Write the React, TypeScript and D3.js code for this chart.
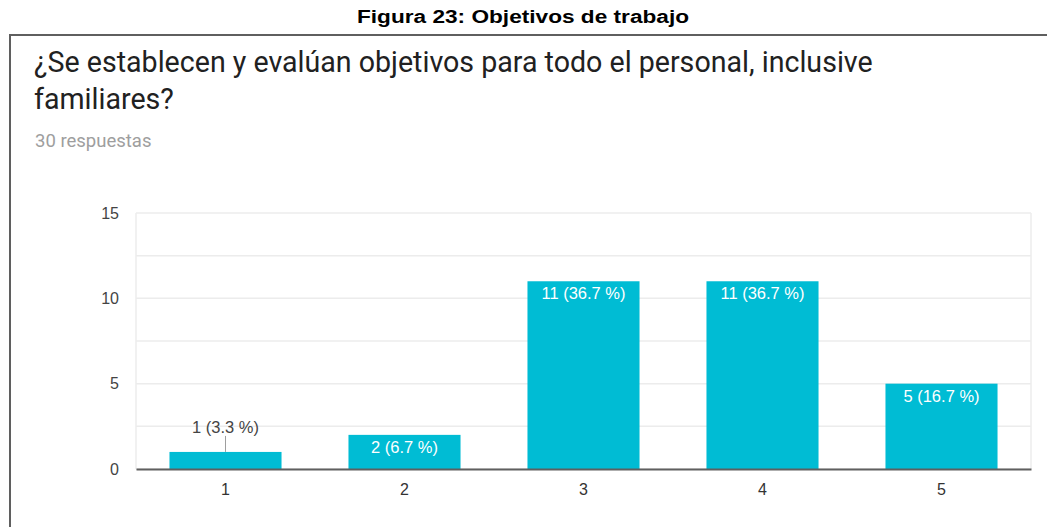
import React, { useEffect, useRef } from 'react';
import * as d3 from 'd3';

const categories: string[] = ['1', '2', '3', '4', '5'];
const counts: number[] = [1, 2, 11, 11, 5];
const percents: string[] = ['3.3', '6.7', '36.7', '36.7', '16.7'];
const yTickLabels: number[] = [0, 5, 10, 15];
const gridValues: number[] = [0, 2.5, 5, 7.5, 10, 12.5, 15];

const caption = 'Figura 23: Objetivos de trabajo';
const titleLines: string[] = [
  '¿Se establecen y evalúan objetivos para todo el personal, inclusive',
  'familiares?',
];
const subtitle = '30 respuestas';

const App: React.FC = () => {
  const svgRef = useRef<SVGSVGElement | null>(null);

  useEffect(() => {
    const svg = d3.select(svgRef.current);
    svg.selectAll('*').remove();

    const width = 1047;
    const height = 527;
    const left = 136;
    const right = 1031;
    const top = 213;
    const bottom = 469;
    const labelFont = 'Liberation Sans, Arial, sans-serif';

    svg.attr('width', width).attr('height', height);

    // caption above the frame
    svg.append('text')
      .attr('x', 523)
      .attr('y', 23)
      .attr('text-anchor', 'middle')
      .attr('font-family', labelFont)
      .attr('font-weight', 'bold')
      .attr('font-size', 18)
      .attr('textLength', 332)
      .attr('lengthAdjust', 'spacingAndGlyphs')
      .attr('fill', '#000')
      .text(caption);

    // frame
    svg.append('path')
      .attr('d', `M10,${height} V35 H${width}`)
      .attr('fill', 'none')
      .attr('stroke', '#5f5f5f')
      .attr('stroke-width', 2);

    // title
    svg.selectAll('text.title')
      .data(titleLines)
      .enter()
      .append('text')
      .attr('class', 'title')
      .attr('x', 34)
      .attr('y', (_, i) => 72 + i * 37)
      .attr('font-family', 'Roboto, sans-serif')
      .attr('font-size', 28.6)
      .attr('fill', '#212121')
      .text((d) => d);

    svg.append('text')
      .attr('x', 35)
      .attr('y', 147)
      .attr('font-family', 'Roboto, sans-serif')
      .attr('font-size', 18.5)
      .attr('fill', '#9e9e9e')
      .text(subtitle);

    const x = d3.scaleBand()
      .domain(categories)
      .range([left, right])
      .paddingInner(0.374)
      .paddingOuter(0.187);
    const y = d3.scaleLinear().domain([0, 15]).range([bottom, top]);

    // gridlines
    svg.append('g')
      .selectAll('line')
      .data(gridValues)
      .enter()
      .append('line')
      .attr('x1', left)
      .attr('x2', right)
      .attr('y1', (d) => y(d))
      .attr('y2', (d) => y(d))
      .attr('stroke', '#ececec')
      .attr('stroke-width', 1.5);

    svg.append('line')
      .attr('x1', left).attr('x2', left)
      .attr('y1', top).attr('y2', bottom)
      .attr('stroke', '#ececec').attr('stroke-width', 1.5);
    svg.append('line')
      .attr('x1', right).attr('x2', right)
      .attr('y1', top).attr('y2', bottom)
      .attr('stroke', '#ececec').attr('stroke-width', 1.5);

    // y axis labels
    const yAxis = svg.append('g')
      .attr('transform', `translate(${left},0)`)
      .call(d3.axisLeft(y).tickValues(yTickLabels).tickSize(0).tickPadding(17));
    yAxis.select('.domain').remove();
    yAxis.selectAll('text')
      .attr('font-family', labelFont)
      .attr('font-size', 16)
      .attr('fill', '#444');

    // bars
    svg.append('g')
      .selectAll('rect')
      .data(counts)
      .enter()
      .append('rect')
      .attr('x', (_, i) => x(categories[i])!)
      .attr('y', (d) => y(d))
      .attr('width', x.bandwidth())
      .attr('height', (d) => bottom - y(d))
      .attr('fill', '#00bcd4');

    // bar labels
    const labels = svg.append('g');
    counts.forEach((d, i) => {
      const cx = x(categories[i])! + x.bandwidth() / 2;
      const txt = `${d} (${percents[i]} %)`;
      if (bottom - y(d) < 25) {
        labels.append('line')
          .attr('x1', cx).attr('x2', cx)
          .attr('y1', y(d)).attr('y2', y(d) - 16)
          .attr('stroke', '#9e9e9e').attr('stroke-width', 1);
        labels.append('text')
          .attr('x', cx)
          .attr('y', y(d) - 19)
          .attr('text-anchor', 'middle')
          .attr('font-family', labelFont)
          .attr('font-size', 16.5)
          .attr('fill', '#444')
          .text(txt);
      } else {
        labels.append('text')
          .attr('x', cx)
          .attr('y', y(d) + 18)
          .attr('text-anchor', 'middle')
          .attr('font-family', labelFont)
          .attr('font-size', 16.5)
          .attr('fill', '#ffffff')
          .text(txt);
      }
    });

    // x axis
    const xAxis = svg.append('g')
      .attr('transform', `translate(0,${bottom})`)
      .call(d3.axisBottom(x).tickSize(0).tickPadding(14.5));
    xAxis.select('.domain').attr('stroke', '#5f5f5f').attr('stroke-width', 2);
    xAxis.selectAll('text')
      .attr('font-family', labelFont)
      .attr('font-size', 16)
      .attr('fill', '#333');
  }, []);

  return (
    <svg ref={svgRef} style={{ position: 'absolute', left: 0, top: 0 }}></svg>
  );
};

export default App;
